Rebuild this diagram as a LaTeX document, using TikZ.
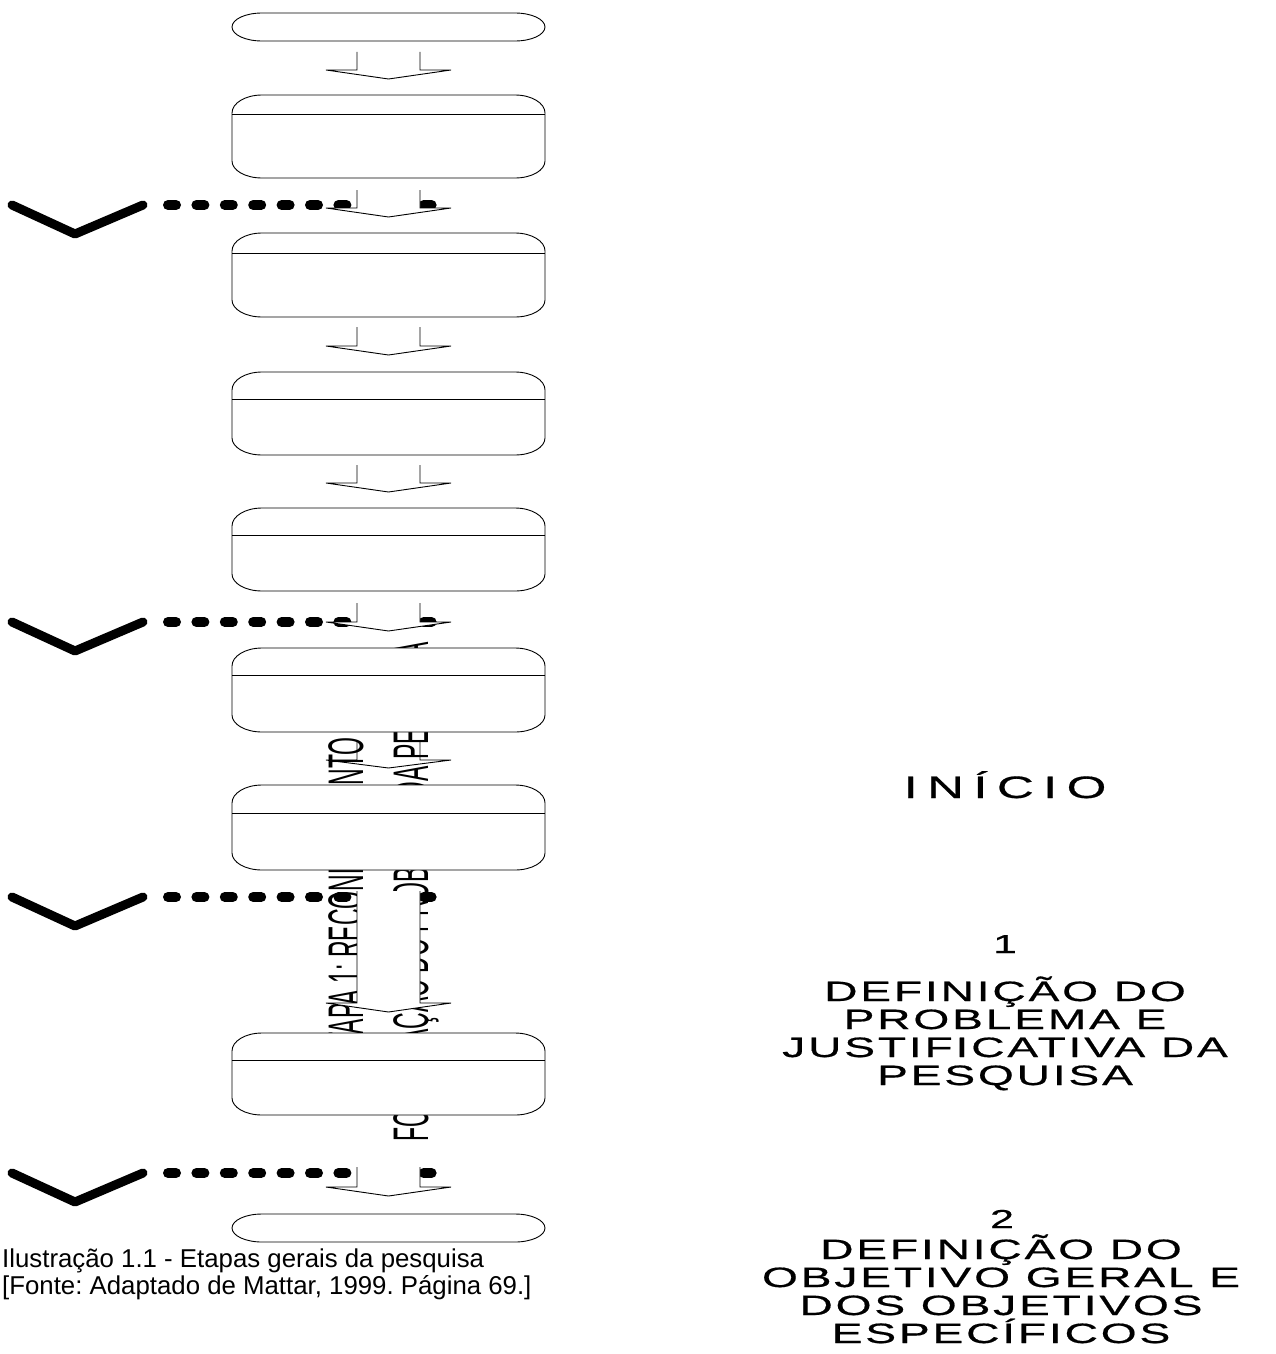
\documentclass[tikz,border=0pt]{standalone}
\usepackage{fontspec}
\setmainfont{Liberation Sans}
\newfontfamily\widesans[FakeStretch=1.65,FakeBold=0.6,LetterSpace=10]{Liberation Sans}
\newfontfamily\narrowsans[FakeStretch=0.46]{Liberation Sans}
\usepackage{tikz}
\usetikzlibrary{positioning,calc}
\tikzset{
  stepbox/.style={rectangle,inner sep=0pt,outer sep=0pt,minimum width=313pt},
  boxline/.style={draw,fill=white,line width=0.9pt},
  blockarrow/.style={draw,fill=white,line width=0.9pt,line join=miter},
  vlabel/.style={rotate=90,anchor=base west,inner sep=0pt,font=\narrowsans\fontsize{50}{50}\selectfont},
  vvee/.style={line width=9pt,line cap=round,line join=round},
  dotrun/.style={line width=10pt,line cap=round,dash pattern=on 8pt off 20.4pt},
  widetext/.style={align=center,inner sep=0pt,anchor=base,font=\widesans\fontsize{28}{28}\selectfont}
}
\frenchspacing

\begin{document}
\begin{tikzpicture}[x=1pt,y=-1pt]
  \useasboundingbox (0,0) rectangle (1276,1354);

  % rotated labels, partly hidden by the boxes
  \node[vlabel] (etapa) at (363,1062) {ETAPA 1: RECONHECIMENTO};
  \node[vlabel] (formul) at (428,1142) {FORMULAÇÃO DO PROBLEMA DA PESQUISA};

  % steps
  \foreach \i/\yt/\yd/\yb in {2/95/114/178,3/233/253/317,4/372/399/455,5/508/535/591,6/648/675/732,7/785/813/870,8/1033/1060/1115}{
    \node[stepbox,minimum height={(\yb-\yt)*1pt}] (b\i) at (388.5,{(\yt+\yb)/2}) {};
    \path[boxline] ([yshift=-18pt]b\i.north west)
      arc[start angle=180,end angle=90,x radius=30pt,y radius=18pt]
      -- ([xshift=-30pt]b\i.north east)
      arc[start angle=90,end angle=0,x radius=30pt,y radius=18pt]
      -- ([yshift=17pt]b\i.south east)
      arc[start angle=0,end angle=-90,x radius=30pt,y radius=17pt]
      -- ([xshift=30pt]b\i.south west)
      arc[start angle=270,end angle=180,x radius=30pt,y radius=17pt]
      -- cycle;
    \draw[line width=0.9pt] (b\i.west |- 0,\yd) -- (b\i.east |- 0,\yd);
  }

  % start and end
  \foreach \i/\yt/\yb in {1/13/41,9/1214/1242}{
    \node[stepbox,minimum height={(\yb-\yt)*1pt}] (b\i) at (388.5,{(\yt+\yb)/2}) {};
    \path[boxline] ([xshift=30pt]b\i.north west) -- ([xshift=-30pt]b\i.north east)
      arc[start angle=90,end angle=-90,x radius=30pt,y radius=14pt]
      -- ([xshift=30pt]b\i.south west)
      arc[start angle=270,end angle=90,x radius=30pt,y radius=14pt]
      -- cycle;
  }

  % feedback lines
  \foreach \y in {205,622,897,1173}{
    \draw[vvee] (12,\y) -- (75,{\y+29}) -- (143,\y);
    \draw[dotrun] (168,\y) -- (432,\y);
  }

  % arrows
  \foreach \yt/\yh in {52/70,190/208,327/346,465/483,603/622,891/1003,1167/1187}{
    \draw[blockarrow] (357,\yt) -- (357,\yh) -- (326,\yh) -- (388.5,{\yh+9})
      -- (451,\yh) -- (420,\yh) -- (420,\yt);
  }
  \draw[blockarrow,fill=none] (357,740) -- (357,760) -- (326,760) -- (388.5,768)
    -- (451,760) -- (420,760) -- (420,740);

  % right column
  \node[widetext,font=\widesans\fontsize{31}{31}\selectfont\addfontfeature{LetterSpace=30}] (inicio) at (1005,798) {INÍCIO};
  \node[widetext,font=\widesans\fontsize{26}{26}\selectfont] (num1) at (1005,953) {1};
  \node[widetext] (etapa1) at (1005,1085) {DEFINIÇÃO DO\\PROBLEMA E\\JUSTIFICATIVA DA\\PESQUISA};
  \node[widetext,font=\widesans\fontsize{26}{26}\selectfont] (num2) at (1002,1228) {2};
  \node[widetext] (etapa2) at (1001,1343) {DEFINIÇÃO DO\\OBJETIVO GERAL E\\DOS OBJETIVOS\\ESPECÍFICOS};

  % caption
  \node[anchor=base west,align=left,inner sep=0pt,font=\fontsize{25.8}{27}\selectfont] (legenda) at (2,1294)
    {Ilustração 1.1 - Etapas gerais da pesquisa\\{[}Fonte: Adaptado de Mattar, 1999. Página 69.]};
\end{tikzpicture}
\end{document}
